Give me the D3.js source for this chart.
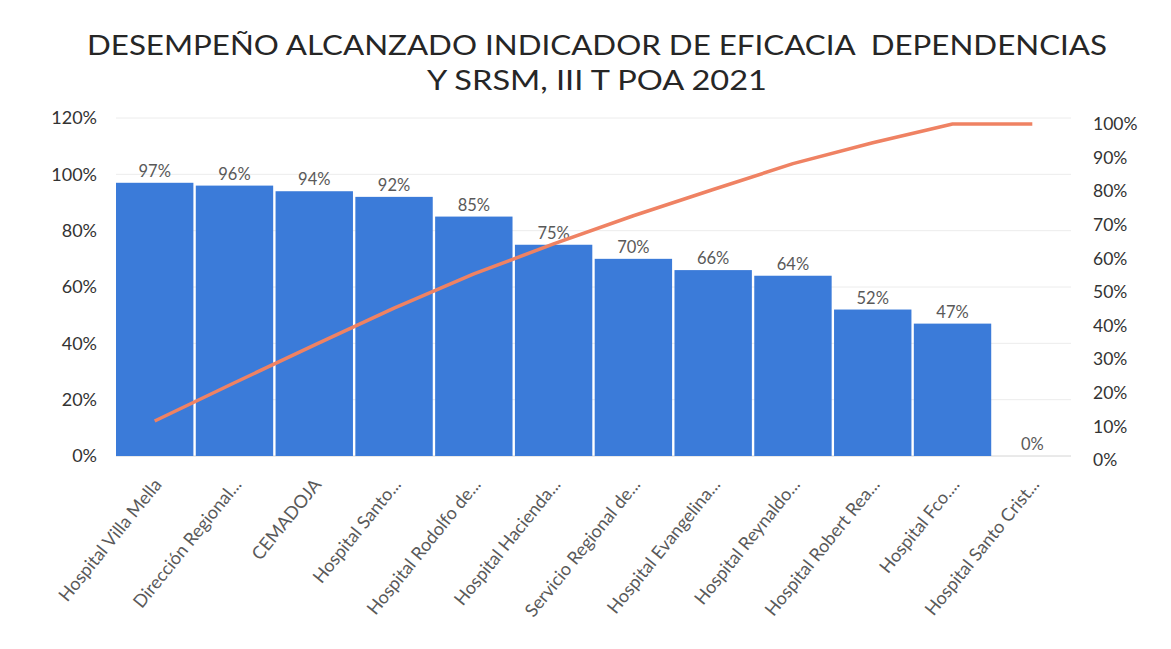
<!DOCTYPE html>
<html>
<head>
<meta charset="utf-8">
<script src="https://cdn.jsdelivr.net/npm/d3@7.9.0/dist/d3.min.js"></script>
<style>
  body { margin: 0; background: #fff; }
  svg { display: block; font-family: Lato, "Open Sans", sans-serif; }
</style>
</head>
<body>
<div id="chart"></div>
<script>
// categories and values
const categories = [
  'Hospital Villa Mella', 'Dirección Regional...', 'CEMADOJA', 'Hospital Santo...',
  'Hospital Rodolfo de...', 'Hospital Hacienda...', 'Servicio Regional de...',
  'Hospital Evangelina...', 'Hospital Reynaldo...', 'Hospital Robert Rea...',
  'Hospital Fco....', 'Hospital Santo Crist...'
];
const performance = [0.97, 0.96, 0.94, 0.92, 0.85, 0.75, 0.70, 0.66, 0.64, 0.52, 0.47, 0];
// cumulative share (orange line, right axis)
const cumulative = [0.116, 0.230, 0.342, 0.452, 0.554, 0.643, 0.727, 0.805, 0.882, 0.944, 1.0, 1.0];
const leftTicks = [0, 0.2, 0.4, 0.6, 0.8, 1.0, 1.2];
const rightTicks = [0, 0.1, 0.2, 0.3, 0.4, 0.5, 0.6, 0.7, 0.8, 0.9, 1.0];
const titleLines = ['DESEMPEÑO ALCANZADO INDICADOR DE EFICACIA  DEPENDENCIAS', 'Y SRSM, III T POA 2021'];

const width = 1171;
const height = 649;
const plot = { left: 116, right: 1071, top: 118, bottom: 456 };

const svg = d3.select('#chart')
  .append('svg')
  .attr('width', width)
  .attr('height', height);

const x = d3.scaleBand()
  .domain(categories)
  .range([plot.left, plot.right])
  .paddingInner(0.03)
  .paddingOuter(0);

const yLeft = d3.scaleLinear().domain([0, 1.2]).range([plot.bottom, plot.top]);
const yRight = d3.scaleLinear().domain([0, 1]).range([plot.bottom + 4, plot.top + 6]);

const pct = d3.format('.0%');

// title
svg.append('g')
  .selectAll('text')
  .data(titleLines)
  .join('text')
  .attr('x', 597)
  .attr('y', (d, i) => 55 + i * 35)
  .attr('text-anchor', 'middle')
  .attr('font-size', 27)
  .attr('fill', '#262626')
  .attr('textLength', (d, i) => i === 0 ? 1020 : 340)
  .attr('lengthAdjust', 'spacingAndGlyphs')
  .style('white-space', 'pre')
  .text(d => d);

// gridlines
svg.append('g')
  .selectAll('line')
  .data(leftTicks)
  .join('line')
  .attr('x1', plot.left)
  .attr('x2', plot.right)
  .attr('y1', d => yLeft(d))
  .attr('y2', d => yLeft(d))
  .attr('stroke', d => d === 0 ? '#d4d4d4' : '#ececec')
  .attr('stroke-width', 1);

// left axis
const gLeft = svg.append('g')
  .attr('transform', `translate(${plot.left},0)`)
  .call(d3.axisLeft(yLeft).tickValues(leftTicks).tickFormat(pct).tickSize(0).tickPadding(19));
gLeft.select('.domain').remove();
gLeft.selectAll('text')
  .attr('font-family', 'Lato, sans-serif')
  .attr('font-size', 18)
  .attr('fill', '#333');

// right axis
const gRight = svg.append('g')
  .attr('transform', `translate(${plot.right},0)`)
  .call(d3.axisRight(yRight).tickValues(rightTicks).tickFormat(pct).tickSize(0).tickPadding(22));
gRight.select('.domain').remove();
gRight.selectAll('text')
  .attr('font-family', 'Lato, sans-serif')
  .attr('font-size', 17.5)
  .attr('fill', '#333');

// bars
svg.append('g')
  .selectAll('rect')
  .data(performance)
  .join('rect')
  .attr('x', (d, i) => x(categories[i]))
  .attr('y', d => yLeft(d))
  .attr('width', x.bandwidth())
  .attr('height', d => yLeft(0) - yLeft(d))
  .attr('fill', '#3b7bd9');

// bar labels
svg.append('g')
  .selectAll('text')
  .data(performance)
  .join('text')
  .attr('x', (d, i) => x(categories[i]) + x.bandwidth() / 2)
  .attr('y', d => yLeft(d) - 6)
  .attr('text-anchor', 'middle')
  .attr('font-size', 16.5)
  .attr('fill', '#595959')
  .text(d => pct(d));

// cumulative line
const line = d3.line()
  .x((d, i) => x(categories[i]) + x.bandwidth() / 2)
  .y(d => yRight(d));

svg.append('path')
  .datum(cumulative)
  .attr('d', line)
  .attr('fill', 'none')
  .attr('stroke', '#ef8263')
  .attr('stroke-width', 3.5)
  .attr('stroke-linejoin', 'round');

// category labels
svg.append('g')
  .selectAll('text')
  .data(categories)
  .join('text')
  .attr('transform', d => `translate(${x(d) + x.bandwidth() / 2 + 3},${plot.bottom + 25}) rotate(-51)`)
  .attr('text-anchor', 'end')
  .attr('dy', '0.35em')
  .attr('font-size', 18)
  .attr('fill', '#595959')
  .text(d => d);
</script>
</body>
</html>
